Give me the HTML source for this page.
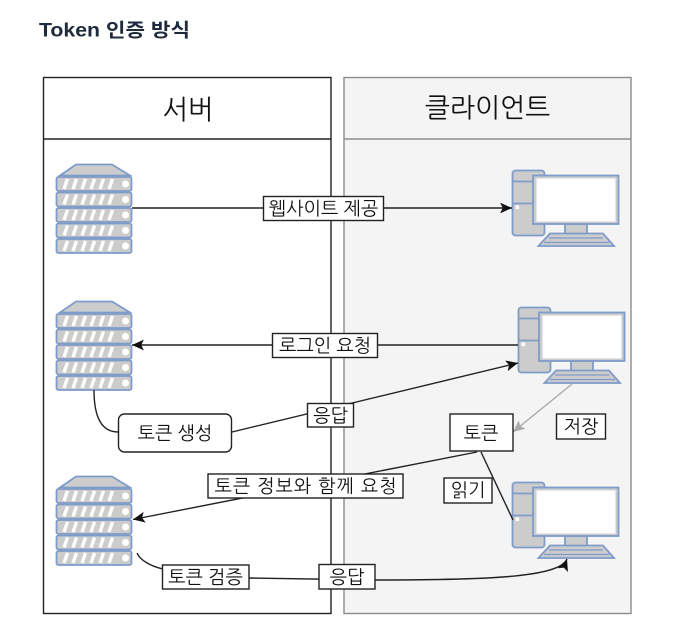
<!DOCTYPE html>
<html lang="ko">
<head>
<meta charset="utf-8">
<style>
html,body{margin:0;padding:0;background:#fff;width:692px;height:622px;overflow:hidden}
svg{display:block;filter:blur(0.35px)}
text{font-family:"Liberation Sans","NanumGothic","Noto Sans CJK KR",sans-serif;fill:#111;text-anchor:middle}
.lb{fill:#fff;stroke:#222;stroke-width:1.400}
.ln{fill:none;stroke:#222;stroke-width:1.400}
.t{font-size:18.500px}
</style>
</head>
<body>
<svg width="692" height="622" viewBox="0 0 692 622" xmlns="http://www.w3.org/2000/svg">
<defs>
<g id="srv">
<path d="M4 11.500 L20 0.500 L56 0.500 L74 11.500 Z" fill="#ccc" stroke="#7f9bc9" stroke-width="1.800"/>
<g fill="#ccc" stroke="#7f9bc9" stroke-width="1.800">
<rect x="0.500" y="13" width="75" height="14" rx="2"/>
<rect x="0.500" y="28.500" width="75" height="14" rx="2"/>
<rect x="0.500" y="44" width="75" height="14" rx="2"/>
<rect x="0.500" y="59.500" width="75" height="14" rx="2"/>
<rect x="0.500" y="75" width="75" height="14" rx="2"/>
</g>
<g fill="#fff">
<circle cx="69.500" cy="20" r="3.500"/><circle cx="69.500" cy="35.500" r="3.500"/><circle cx="69.500" cy="51" r="3.500"/><circle cx="69.500" cy="66.500" r="3.500"/><circle cx="69.500" cy="82" r="3.500"/>
</g>
<g stroke="#fff" stroke-width="3.400" fill="none">
<path d="M8 25L11.500 15M17 25L20.500 15M26 25L29.500 15M35 25L38.500 15M44 25L47.500 15M53 25L56.500 15"/>
<path d="M8 40.500L11.500 30.500M17 40.500L20.500 30.500M26 40.500L29.500 30.500M35 40.500L38.500 30.500M44 40.500L47.500 30.500M53 40.500L56.500 30.500"/>
<path d="M8 56L11.500 46M17 56L20.500 46M26 56L29.500 46M35 56L38.500 46M44 56L47.500 46M53 56L56.500 46"/>
<path d="M8 71.500L11.500 61.500M17 71.500L20.500 61.500M26 71.500L29.500 61.500M35 71.500L38.500 61.500M44 71.500L47.500 61.500M53 71.500L56.500 61.500"/>
<path d="M8 87L11.500 77M17 87L20.500 77M26 87L29.500 77M35 87L38.500 77M44 87L47.500 77M53 87L56.500 77"/>
</g>
</g>
<g id="pc">
<rect x="0.500" y="0.500" width="32" height="65" rx="3" fill="#ccc" stroke="#7f9bc9" stroke-width="1.800"/>
<path d="M0.500 11.500H32.500M0.500 33.500H32.500" stroke="#7f9bc9" stroke-width="1.800"/>
<rect x="3.500" y="35.500" width="3.600" height="3.600" fill="#fff"/>
<rect x="53" y="54" width="22" height="10" fill="#ccc" stroke="#7f9bc9" stroke-width="1.800"/>
<path d="M38 63.500 L91 63.500 L102 76 L26.500 76 Z" fill="#ccc" stroke="#7f9bc9" stroke-width="1.800"/>
<path d="M37 68H91M32 72.500H97" stroke="#7f9bc9" stroke-width="1.300"/>
<rect x="21" y="5.500" width="85.500" height="48.500" fill="#ccc" stroke="#7f9bc9" stroke-width="1.800"/>
<rect x="24.500" y="8.500" width="79" height="43" fill="#fff"/>
</g>
<marker id="a" viewBox="0 0 12 10" refX="11" refY="5" markerWidth="13" markerHeight="11" markerUnits="userSpaceOnUse" orient="auto"><path d="M0 0L11 5L0 10L2.500 5Z" fill="#111"/></marker>
<marker id="g" viewBox="0 0 12 10" refX="11" refY="5" markerWidth="13" markerHeight="11" markerUnits="userSpaceOnUse" orient="auto"><path d="M0 0L11 5L0 10L2.500 5Z" fill="#aaa"/></marker>
</defs>

<text x="39" y="36.500" style="text-anchor:start;font-size:19px;font-weight:700;fill:#1f2a3c;font-family:'Liberation Sans','Noto Sans CJK KR',sans-serif" textLength="151" lengthAdjust="spacingAndGlyphs">Token 인증 방식</text>

<rect x="43.500" y="77.500" width="287.500" height="536" fill="#fff" stroke="#222" stroke-width="1.400"/>
<line x1="43.500" y1="139" x2="331" y2="139" stroke="#222" stroke-width="1.400"/>
<rect x="344" y="77.500" width="287" height="536" fill="#f4f4f4" stroke="#8c8c8c" stroke-width="1.400"/>
<line x1="344" y1="139" x2="631" y2="139" stroke="#8c8c8c" stroke-width="1.400"/>
<text x="188" y="119" font-size="27">서버</text>
<text x="487.500" y="117" font-size="26.700">클라이언트</text>

<use href="#srv" x="56" y="164"/>
<use href="#srv" x="56" y="301"/>
<use href="#srv" x="56" y="476"/>
<use href="#pc" x="512" y="170"/>
<use href="#pc" x="518" y="307"/>
<use href="#pc" x="512" y="482"/>

<path class="ln" d="M132 208H512" marker-end="url(#a)"/>
<path class="ln" d="M518 345H132" marker-end="url(#a)"/>
<path class="ln" d="M94 390C94 420 103 432 118 432"/>
<path class="ln" d="M232 432L518 363" marker-end="url(#a)"/>
<path d="M572 384L513 432" fill="none" stroke="#aaa" stroke-width="1.400" marker-end="url(#g)"/>
<path class="ln" d="M477 452L133 519.500" marker-end="url(#a)"/>
<path class="ln" d="M481 452L513 520"/>
<path class="ln" d="M137 553C140 560 150 566 163 569"/>
<path class="ln" d="M249 578L375 580C480 580 560 578 567 559" marker-end="url(#a)"/>

<rect class="lb" x="263.500" y="196.500" width="120" height="24"/>
<text class="t" x="323.500" y="215">웹사이트 제공</text>
<rect class="lb" x="272.500" y="333.500" width="105" height="24"/>
<text class="t" x="325" y="352">로그인 요청</text>
<rect class="lb" x="118.500" y="414" width="113" height="38" rx="6"/>
<text class="t" x="175" y="439.500">토큰 생성</text>
<rect class="lb" x="307.500" y="403.500" width="46" height="23.500"/>
<text class="t" x="330.500" y="422">응답</text>
<rect class="lb" x="450" y="414" width="63" height="37"/>
<text class="t" x="481" y="439.500">토큰</text>
<rect class="lb" x="556.500" y="414" width="49" height="25"/>
<text class="t" x="581" y="433">저장</text>
<rect class="lb" x="444" y="478" width="48" height="25"/>
<text class="t" x="468" y="496.500">읽기</text>
<rect class="lb" x="208" y="474" width="195" height="24"/>
<text class="t" x="305.500" y="492.500" textLength="182" lengthAdjust="spacing">토큰 정보와 함께 요청</text>
<rect class="lb" x="162.500" y="565" width="86.500" height="24"/>
<text class="t" x="205.500" y="583.500">토큰 검증</text>
<rect class="lb" x="319" y="564.500" width="56" height="24.500"/>
<text class="t" x="347" y="583.500">응답</text>
</svg>
</body>
</html>
